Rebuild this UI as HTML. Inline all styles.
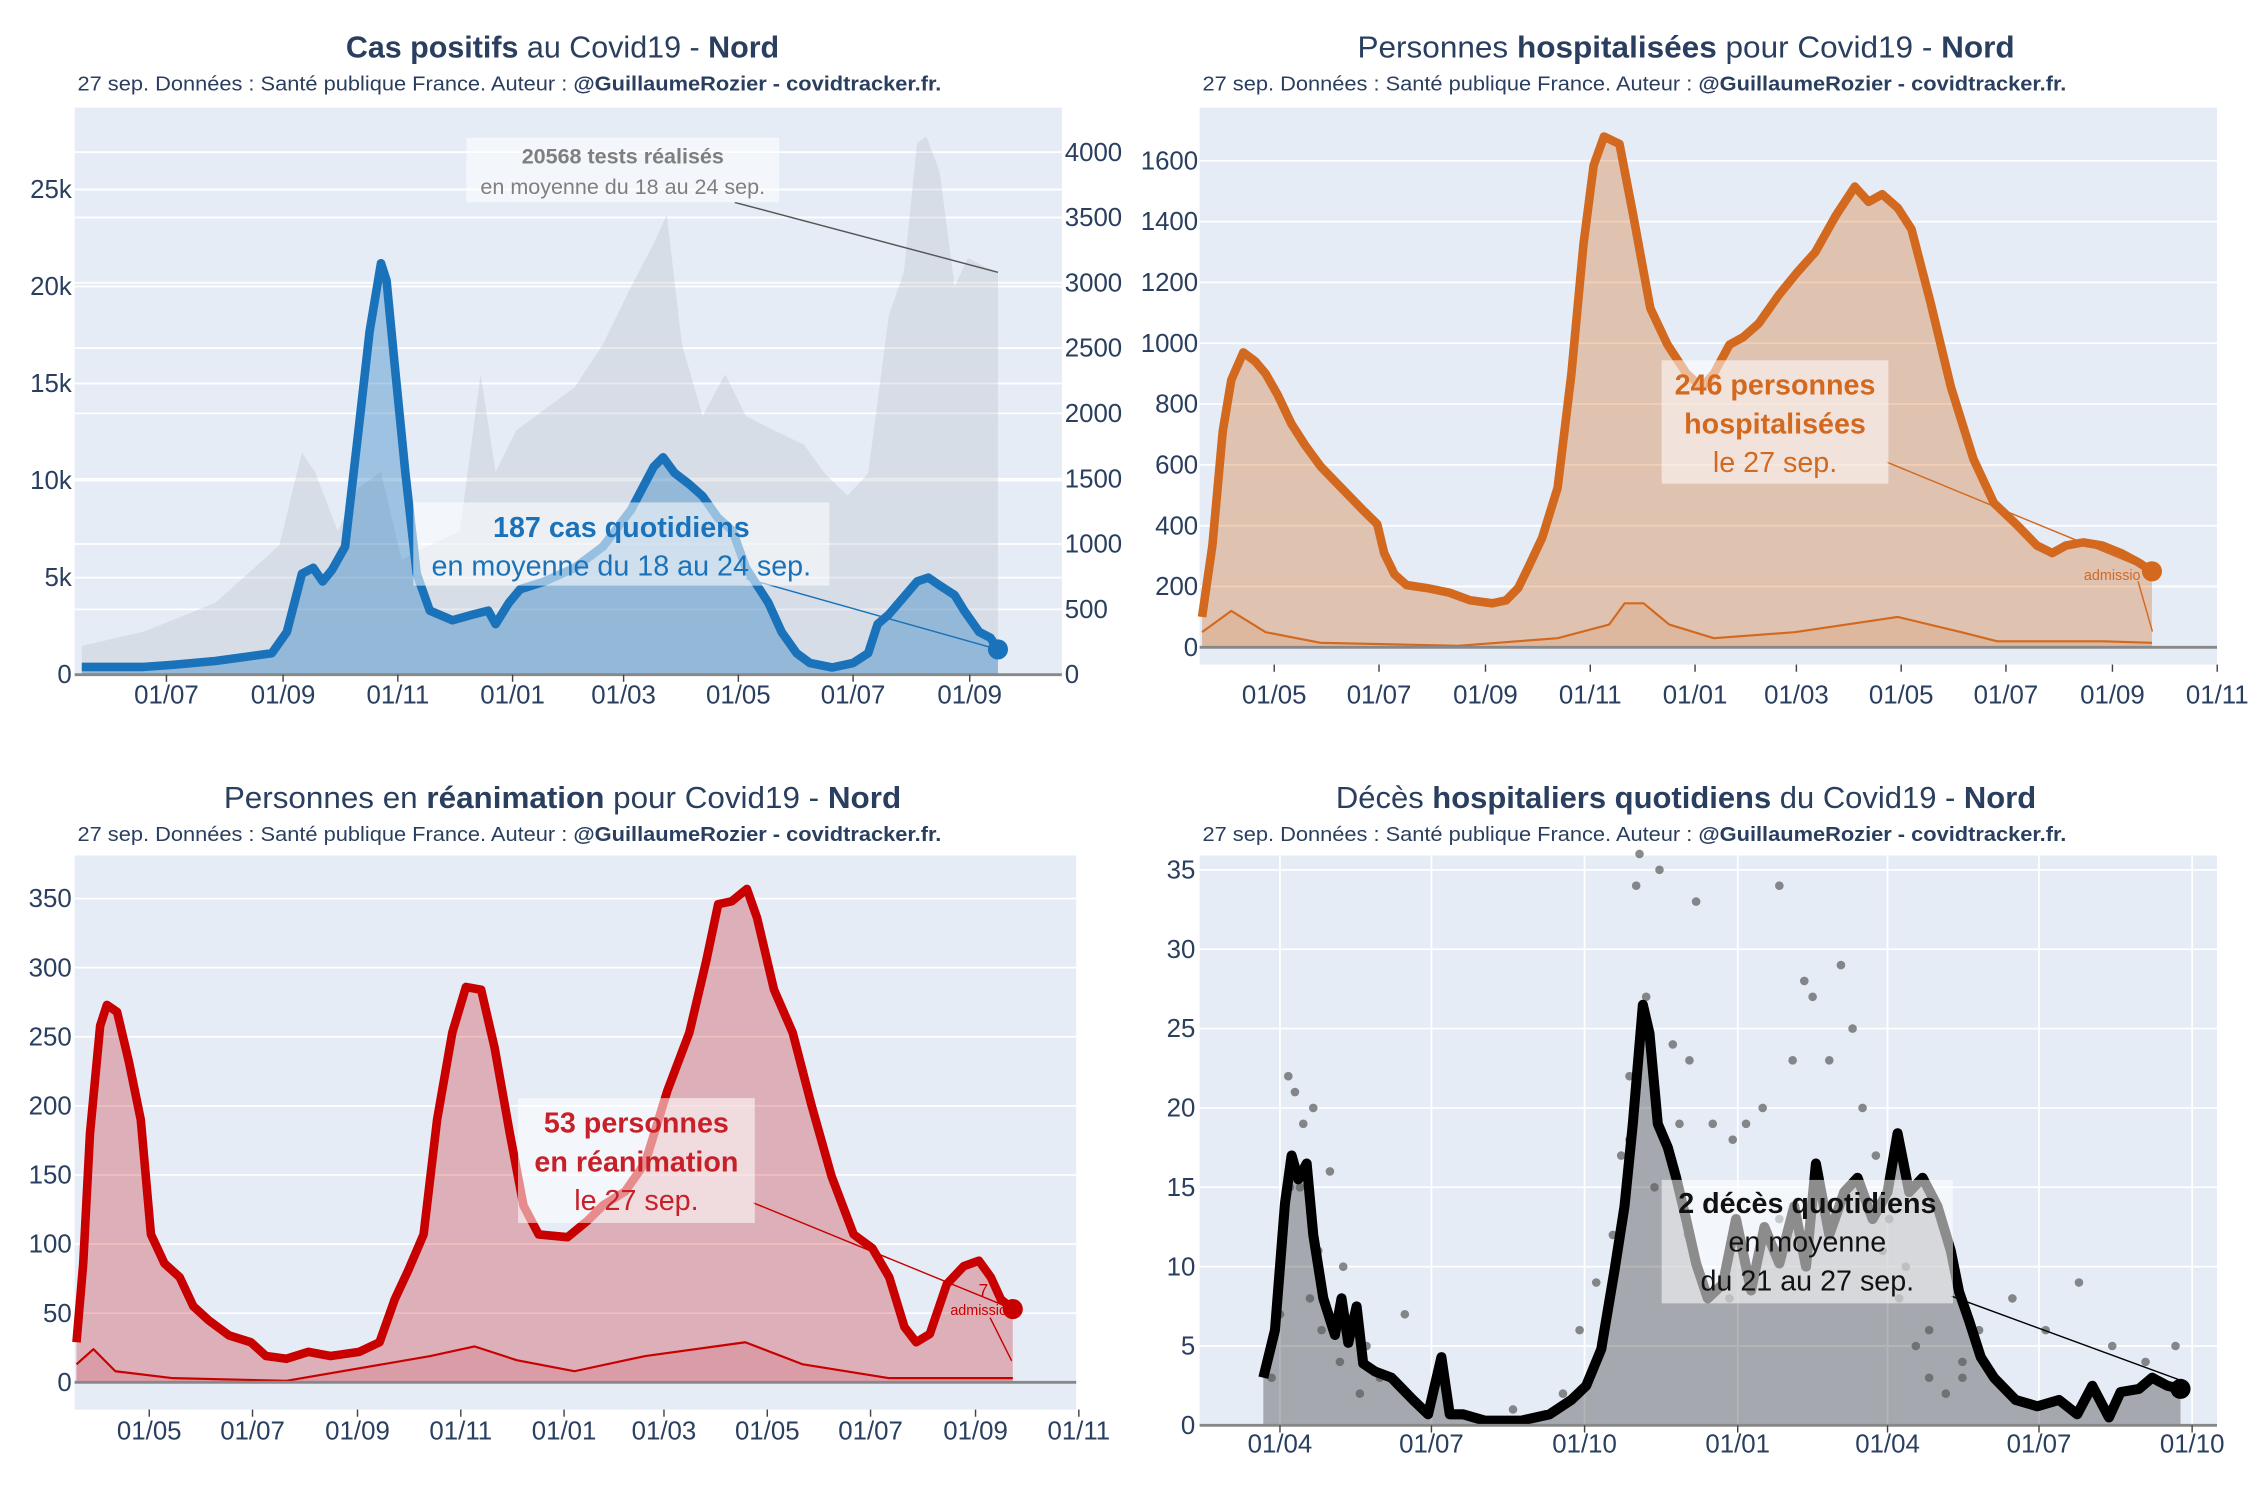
<!DOCTYPE html>
<html><head><meta charset="utf-8">
<style>
html,body{margin:0;padding:0;background:#fff;}
svg{display:block;font-family:"Liberation Sans",sans-serif;}
</style></head>
<body>
<svg id="root" width="2250" height="1500" viewBox="0 0 1568 1045" preserveAspectRatio="none" xmlns="http://www.w3.org/2000/svg"></svg>
<script>
// ---------- Panel 1: cases (days from 2020-07-01) ----------
const casesDays=[-45,-12,3,26,56,64,72,78,83,88,95,102,108,114,117,121,127,133,140,152,163,171,175,182,188,201,217,232,247,259,264,270,278,285,293,301,308,320,327,335,342,354,365,373,378,384,392,399,405,411,419,424,432,438,442];
const casesVals=[400,400,500,700,1100,2200,5200,5500,4800,5400,6600,12500,17700,21200,20300,16300,10400,5200,3300,2800,3100,3300,2600,3700,4400,4800,5500,6600,8500,10700,11200,10400,9800,9200,8100,7400,5500,3700,2200,1100,600,370,600,1100,2600,3100,4000,4800,5000,4600,4100,3300,2200,1900,1300];
const testsDays=[-45,-12,26,60,72,79,91,102,114,125,140,156,167,175,186,201,217,232,247,259,266,274,285,297,308,323,339,350,362,373,384,392,399,404,411,419,426,434,442];
const testsVals=[220,330,550,990,1700,1550,1100,1430,1550,880,990,1100,2300,1550,1870,2030,2200,2530,2970,3300,3520,2530,1980,2300,1980,1870,1760,1540,1370,1540,2750,3080,4070,4120,3850,2970,3190,3130,3080];
const casesTicksL=[0,5000,10000,15000,20000,25000];
const casesTickLabelsL=["0","5k","10k","15k","20k","25k"];
const testsTicksR=[0,500,1000,1500,2000,2500,3000,3500,4000];
const casesXTickDays=[0,62,123,184,243,304,365,427];
const casesXTickLabels=["01/07","01/09","01/11","01/01","01/03","01/05","01/07","01/09"];
// ---------- Panel 2: hospitalisations (days from 2020-05-01) ----------
const hospDays=[-42,-36,-30,-25,-18,-11,-5,2,10,18,27,39,52,60,64,70,77,89,102,114,127,135,142,148,156,165,173,180,186,192,201,209,219,229,240,249,256,265,273,282,294,304,315,327,338,346,354,363,371,382,394,407,419,432,444,453,461,471,482,493,503,511];
const hospVals=[100,335,710,880,970,940,900,830,735,665,595,525,450,405,310,240,205,195,180,155,145,155,195,265,360,525,900,1325,1585,1680,1655,1420,1115,995,900,855,900,995,1020,1065,1160,1230,1300,1420,1515,1465,1490,1445,1375,1135,855,620,475,405,335,310,335,345,335,310,280,250];
const hospAdmDays=[-42,-25,-5,27,107,165,195,204,215,230,256,303,363,400,421,483,511];
const hospAdmVals=[50,120,50,15,5,30,75,145,145,75,30,50,100,50,20,20,15];
const hospTicks=[0,200,400,600,800,1000,1200,1400,1600];
const hospXTickDays=[0,61,123,184,245,304,365,426,488,549];
const hospXTickLabels=["01/05","01/07","01/09","01/11","01/01","01/03","01/05","01/07","01/09","01/11"];
// ---------- Panel 3: réanimation (days from 2020-05-01) ----------
const reaDays=[-43,-39,-35,-29,-25,-19,-12,-5,1,9,18,26,35,47,60,69,81,94,107,124,136,145,153,162,170,179,187,196,204,213,221,230,247,259,268,281,293,306,319,329,336,344,353,359,369,380,391,403,416,427,437,446,453,461,471,481,490,497,503,510];
const reaVals=[29,86,180,258,273,268,232,190,107,86,76,55,45,34,29,19,17,22,19,22,29,60,81,107,190,253,286,284,242,180,128,107,105,117,128,138,159,211,253,305,346,348,357,336,284,253,201,149,107,97,76,40,29,35,71,84,88,76,60,53];
const reaAdmDays=[-43,-33,-20,14,81,166,192,217,251,293,352,386,437,510];
const reaAdmVals=[13,24,8,3,1,19,26,16,8,19,29,13,3,3];
const reaTicks=[0,50,100,150,200,250,300,350];
const reaXTickDays=[0,61,123,184,245,304,365,426,488,549];
const reaXTickLabels=["01/05","01/07","01/09","01/11","01/01","01/03","01/05","01/07","01/09","01/11"];
// ---------- Panel 4: décès (days from 2020-04-01) ----------
const decesDays=[-10,-3,3,7,11,16,20,26,33,37,41,46,50,57,67,80,89,97,102,110,123,145,162,175,184,193,201,207,212,218,222,227,233,238,244,250,257,266,274,283,291,300,309,316,322,330,339,347,356,365,371,378,386,395,403,408,414,421,429,442,455,468,479,488,498,505,516,524,533,541];
const decesVals=[3,6,14,17,15.5,16.5,12,8,5.7,8,5.2,7.5,3.9,3.4,3,1.6,0.7,4.3,0.7,0.7,0.3,0.3,0.7,1.6,2.5,4.8,9.8,13.8,19,26.5,24.7,19,17.5,15.6,13,10.2,8,8.9,13,8.5,12.5,10.2,13.8,10,16.5,12,14.7,15.6,13,14.7,18.4,14.7,15.6,13.8,11,8.4,6.6,4.3,3,1.6,1.2,1.6,0.7,2.5,0.5,2.1,2.3,3,2.5,2.3];
const decesDotDays=[-5,0,2,5,9,14,20,23,30,38,45,52,60,75,100,140,170,180,190,200,205,210,214,216,220,228,236,240,246,250,260,272,280,290,300,308,315,320,330,337,344,350,358,362,366,372,376,382,390,400,410,420,440,460,480,500,520,538,6,12,18,25,36,48,210,225,245,270,300,330,360,390,410];
const decesDotVals=[3,7,12,22,21,19,20,11,16,10,6,5,3,7,2,1,2,6,9,12,17,22,34,36,27,35,24,19,23,33,19,18,19,20,34,23,28,27,23,29,25,20,17,11,13,8,10,5,3,2,4,6,8,6,9,5,4,5,15,15,8,6,4,2,18,15,12,8,13,12,14,6,3];
const decesTicks=[0,5,10,15,20,25,30,35];
const decesXTickDays=[0,91,183,275,365,456,548];
const decesXTickLabels=["01/04","01/07","01/10","01/01","01/04","01/07","01/10"];

const NS="http://www.w3.org/2000/svg";
const root=document.getElementById('root');
function mk(tag,attrs,parent,text){const e=document.createElementNS(NS,tag);for(const k in attrs)e.setAttribute(k,attrs[k]);if(text!==undefined)e.textContent=text;(parent||root).appendChild(e);return e;}
function pathD(xs,ys){return xs.map((x,i)=>(i?'L':'M')+x.toFixed(1)+','+ys[i].toFixed(1)).join('');}

function title(cx,y,parts,sub,tl){
  const t=mk('text',{x:cx,y:y,'text-anchor':'middle','font-size':21,fill:'#2a3f5f',textLength:tl,lengthAdjust:'spacingAndGlyphs'});
  
  
  parts.forEach(p=>mk('tspan',{'font-weight':p[1]?'bold':'normal'},t,p[0]));
  const s=mk('text',{x:cx-sub.dx,y:y+23,'font-size':14,fill:'#2a3f5f',textLength:602,lengthAdjust:'spacingAndGlyphs'});
  
  
  mk('tspan',{},s,"27 sep. Données : Santé publique France. Auteur : ");
  mk('tspan',{'font-weight':'bold'},s,"@GuillaumeRozier - covidtracker.fr.");
}
function panel(name,x0,y0,x1,y1){
  const g=mk('g',{});
  
  
  const bg=mk('rect',{x:x0,y:y0,width:x1-x0,height:y1-y0,fill:'#e5ecf6'},g);
  
  
  return g;
}
function hgrid(g,ticks,yf,x0,x1,labels,lx,anchor,name){
  ticks.forEach((v,i)=>{
    if(v!==0)mk('line',{x1:x0,x2:x1,y1:yf(v),y2:yf(v),stroke:'#fff','stroke-width':1.2},g);
    if(labels){const t=mk('text',{x:lx,y:yf(v)+6,'text-anchor':anchor,'font-size':18,fill:'#2a3f5f'},g,labels[i]);
      
      }
  });
}
function xticks(g,days,labels,xf,y,ty,grid,gy0,gy1){
  days.forEach((d,i)=>{
    const x=xf(d);
    mk('line',{x1:x,x2:x,y1:y,y2:y+5,stroke:'#444','stroke-width':1},g);
    const t=mk('text',{x:x,y:ty,'text-anchor':'middle','font-size':18,fill:'#2a3f5f'},g,labels[i]);
    
    
  });
}
function area(g,days,vals,xf,yf,fill,stroke,sw,name){
  const xs=days.map(xf),ys=vals.map(yf);
  const y0=yf(0);
  if(fill){const a=mk('path',{d:pathD(xs,ys)+'L'+xs[xs.length-1]+','+y0+'L'+xs[0]+','+y0+'Z',fill:fill},g);
    
    }
  if(stroke){const l=mk('path',{d:pathD(xs,ys),fill:'none',stroke:stroke,'stroke-width':sw,'stroke-linejoin':'round'},g);
    
    }
  return [xs[xs.length-1],ys[ys.length-1]];
}
function box(g,x,y,w,h,lines,name){
  const r=mk('rect',{x:x,y:y,width:w,height:h,fill:'rgba(255,255,255,0.55)'},g);
  
  
  lines.forEach(l=>{const t=mk('text',{x:x+w/2,y:l.y,'text-anchor':'middle','font-size':l.s,'font-weight':l.b?'bold':'normal',fill:l.c},g,l.t);
    
    });
}

// ===== Panel 1 =====
title(392,40,[["Cas positifs",1],[" au Covid19 - ",0],["Nord",1]],{dx:338},302);
(function(){
  const g=panel('cases-panel',52,75,740,470);
  const xf=d=>116+d*1.311, yL=v=>470-v*338/25000, yR=v=>470-v*364/4000;
  hgrid(g,testsTicksR,yR,52,740,testsTicksR.map(String),742,'start','y2-tick-label');
  hgrid(g,casesTicksL,yL,52,740,casesTickLabelsL,50,'end','y-tick-label');
  area(g,testsDays,testsVals,xf,yR,'rgba(175,182,195,0.28)',null,0,'tests');
  const e=area(g,casesDays,casesVals,xf,yL,'rgba(31,119,190,0.36)','#1a72ba',6,'cases');
  mk('line',{x1:52,x2:740,y1:470,y2:470,stroke:'#888','stroke-width':2},g);
  xticks(g,casesXTickDays,casesXTickLabels,xf,470,490,false);
  mk('line',{x1:512,y1:141,x2:xf(testsDays[testsDays.length-1]),y2:yR(testsVals[testsVals.length-1]),stroke:'#555','stroke-width':1},g);
  box(g,325,96,218,45,[{t:"20568 tests réalisés",y:114,s:15,b:1,c:'#7f7f7f'},{t:"en moyenne du 18 au 24 sep.",y:135,s:15,c:'#7f7f7f'}],'tests-annotation');
  mk('line',{x1:520,y1:403,x2:e[0],y2:e[1],stroke:'#1a72ba','stroke-width':1},g);
  box(g,288,350,290,58,[{t:"187 cas quotidiens",y:374,s:20,b:1,c:'#1a72ba'},{t:"en moyenne du 18 au 24 sep.",y:401,s:20,c:'#1a72ba'}],'cases-annotation');
  const c=mk('circle',{cx:e[0],cy:e[1],r:7,fill:'#1a72ba'},g);
  
  
})();

// ===== Panel 2 =====
title(1175,40,[["Personnes ",0],["hospitalisées",1],[" pour Covid19 - ",0],["Nord",1]],{dx:337},458);
(function(){
  const g=panel('hosp-panel',836,75,1545,463);
  const xf=d=>888+d*1.197, yf=v=>451-v*339/1600;
  hgrid(g,hospTicks,yf,836,1545,hospTicks.map(String),835,'end','y-tick-label');
  const e=area(g,hospDays,hospVals,xf,yf,'rgba(214,105,30,0.32)','#d2691e',6,'hosp');
  area(g,hospAdmDays,hospAdmVals,xf,yf,'rgba(214,105,30,0.12)','#d2691e',1.5,'hosp-admissions');
  mk('line',{x1:836,x2:1545,y1:451,y2:451,stroke:'#888','stroke-width':2},g);
  mk('line',{x1:1490,y1:405,x2:1500,y2:440,stroke:'#d2691e','stroke-width':1},g);
  mk('text',{x:1472,y:404,'text-anchor':'middle','font-size':10,fill:'#d2691e'},g,'admissio');
  xticks(g,hospXTickDays,hospXTickLabels,xf,463,490,false);
  mk('line',{x1:1315,y1:322,x2:e[0],y2:e[1],stroke:'#d2691e','stroke-width':1},g);
  box(g,1158,251,158,86,[{t:"246 personnes",y:275,s:20,b:1,c:'#d2691e'},{t:"hospitalisées",y:302,s:20,b:1,c:'#d2691e'},{t:"le 27 sep.",y:329,s:20,c:'#d2691e'}],'hosp-annotation');
  const c=mk('circle',{cx:e[0],cy:e[1],r:7,fill:'#d2691e'},g);
  
  
})();

// ===== Panel 3 =====
title(392,563,[["Personnes en ",0],["réanimation",1],[" pour Covid19 - ",0],["Nord",1]],{dx:338},472);
(function(){
  const g=panel('rea-panel',52,596,750,982);
  const xf=d=>104+d*1.18, yf=v=>963-v*337/350;
  hgrid(g,reaTicks,yf,52,750,reaTicks.map(String),50,'end','y-tick-label');
  const e=area(g,reaDays,reaVals,xf,yf,'rgba(200,20,30,0.28)','#c80000',6,'rea');
  area(g,reaAdmDays,reaAdmVals,xf,yf,'rgba(200,20,30,0.12)','#c80000',1.5,'rea-admissions');
  mk('line',{x1:52,x2:750,y1:963,y2:963,stroke:'#888','stroke-width':2},g);
  mk('line',{x1:690,y1:918,x2:705,y2:948,stroke:'#c80000','stroke-width':1},g);
  mk('text',{x:682,y:903,'font-size':12,fill:'#c80000'},g,'7');
  mk('text',{x:682,y:916,'text-anchor':'middle','font-size':10,fill:'#c80000'},g,'admissio');
  xticks(g,reaXTickDays,reaXTickLabels,xf,982,1003,false);
  mk('line',{x1:525,y1:838,x2:e[0],y2:e[1],stroke:'#c80000','stroke-width':1},g);
  box(g,361,765,165,87,[{t:"53 personnes",y:789,s:20,b:1,c:'#c82028'},{t:"en réanimation",y:816,s:20,b:1,c:'#c82028'},{t:"le 27 sep.",y:843,s:20,c:'#c82028'}],'rea-annotation');
  const c=mk('circle',{cx:e[0],cy:e[1],r:7,fill:'#c80000'},g);
  
  
})();

// ===== Panel 4 =====
title(1175,563,[["Décès ",0],["hospitaliers quotidiens",1],[" du Covid19 - ",0],["Nord",1]],{dx:337},488);
(function(){
  const g=panel('deces-panel',836,596,1545,993);
  const xf=d=>892+d*1.16, yf=v=>993-v*387/35;
  hgrid(g,decesTicks,yf,836,1545,decesTicks.map(String),833,'end','y-tick-label');
  decesXTickDays.forEach(d=>mk('line',{x1:xf(d),x2:xf(d),y1:596,y2:993,stroke:'#fff','stroke-width':1.2},g));
  area(g,decesDays,decesVals,xf,yf,'rgba(60,60,60,0.38)',null,0,'deces');
  decesDotDays.forEach((d,i)=>{
    const c=mk('circle',{cx:xf(d),cy:yf(decesDotVals[i]),r:3,fill:'rgba(90,90,90,0.7)'},g);
    
    
  });
  const e=area(g,decesDays,decesVals,xf,yf,null,'#000',7,'deces');
  mk('line',{x1:836,x2:1545,y1:993,y2:993,stroke:'#888','stroke-width':2},g);
  xticks(g,decesXTickDays,decesXTickLabels,xf,993,1012,false);
  mk('line',{x1:1360,y1:903,x2:e[0],y2:e[1]-6,stroke:'#000','stroke-width':1},g);
  box(g,1158,822,203,86,[{t:"2 décès quotidiens",y:845,s:20,b:1,c:'#111'},{t:"en moyenne",y:872,s:20,c:'#111'},{t:"du 21 au 27 sep.",y:899,s:20,c:'#111'}],'deces-annotation');
  const c=mk('circle',{cx:e[0],cy:e[1],r:7,fill:'#000'},g);
  
  
})();
</script>
</body></html>
